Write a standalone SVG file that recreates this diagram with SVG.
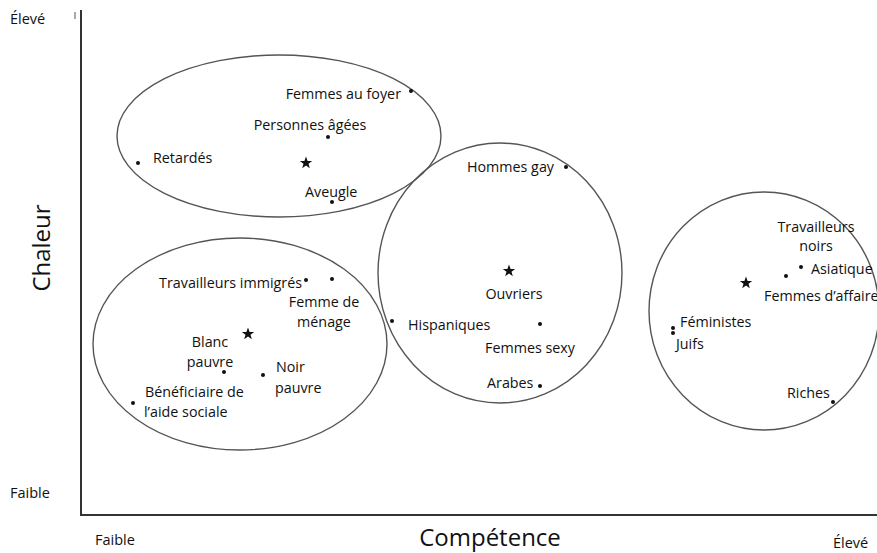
<svg xmlns="http://www.w3.org/2000/svg" width="877" height="553" viewBox="0 0 877 553">
<style>
.lbl{font-family:"Open Sans","Noto Sans","DejaVu Sans",sans-serif;font-size:14.3px;fill:#111}
.ax{font-family:"Open Sans","Liberation Sans",sans-serif;font-size:14.5px;fill:#111}
.title{font-family:"Open Sans","Liberation Sans",sans-serif;font-size:24px;fill:#111}
.cl{fill:none;stroke:#555;stroke-width:1.4}
.dot{fill:#111}
.star{fill:#111}
</style>
<defs>
<polygon id="star" points="0,-6.5 1.6,-2.1 6.2,-2 2.5,0.8 3.8,5.3 0,2.6 -3.8,5.3 -2.5,0.8 -6.2,-2 -1.6,-2.1"/>
</defs>
<rect width="877" height="553" fill="#fff"/>
<g id="axes">
<line x1="81" y1="10" x2="81" y2="516" stroke="#333" stroke-width="2"/>
<line x1="75" y1="12" x2="75" y2="19" stroke="#555" stroke-width="1"/>
<line x1="80" y1="515" x2="877" y2="515" stroke="#333" stroke-width="2"/>
<text class="ax" x="10" y="24">Élevé</text>
<text class="ax" x="10" y="498">Faible</text>
<text class="ax" x="95" y="545">Faible</text>
<text class="ax" x="833" y="548">Élevé</text>
<text class="title" x="490" y="546" text-anchor="middle">Compétence</text>
<text class="title" transform="translate(50,248) rotate(-90)" text-anchor="middle">Chaleur</text>
</g>
<g id="cluster-top">
<ellipse class="cl" cx="279" cy="136" rx="162" ry="81"/>
<use href="#star" class="star" x="306" y="163"/>
</g>
<g id="cluster-bottom-left">
<ellipse class="cl" cx="240" cy="344" rx="147" ry="106"/>
<use href="#star" class="star" x="248" y="334"/>
</g>
<g id="cluster-middle">
<ellipse class="cl" cx="500" cy="273" rx="122" ry="130"/>
<use href="#star" class="star" x="509" y="271"/>
</g>
<g id="cluster-right">
<ellipse class="cl" cx="764" cy="311" rx="115" ry="119"/>
<use href="#star" class="star" x="746" y="283"/>
</g>
<g id="femmes-au-foyer"><circle class="dot" cx="411" cy="91" r="2"/><text class="lbl" x="401" y="99" text-anchor="end">Femmes au foyer</text></g>
<g id="personnes-agees"><circle class="dot" cx="328" cy="137" r="2"/><text class="lbl" x="310" y="130" text-anchor="middle">Personnes âgées</text></g>
<g id="retardes"><circle class="dot" cx="138" cy="163" r="2"/><text class="lbl" x="153" y="163">Retardés</text></g>
<g id="aveugle"><circle class="dot" cx="332" cy="202" r="2"/><text class="lbl" x="305" y="197">Aveugle</text></g>
<g id="travailleurs-immigres"><circle class="dot" cx="306" cy="280" r="2"/><text class="lbl" x="302" y="288" text-anchor="end">Travailleurs immigrés</text></g>
<g id="femme-de-menage"><circle class="dot" cx="332" cy="279" r="2"/><text class="lbl" x="324" y="307" text-anchor="middle">Femme de</text><text class="lbl" x="324" y="327" text-anchor="middle">ménage</text></g>
<g id="blanc-pauvre"><circle class="dot" cx="224" cy="372" r="2"/><text class="lbl" x="210" y="347" text-anchor="middle">Blanc</text><text class="lbl" x="210" y="367" text-anchor="middle">pauvre</text></g>
<g id="noir-pauvre"><circle class="dot" cx="263" cy="375" r="2"/><text class="lbl" x="276" y="372">Noir</text><text class="lbl" x="275" y="393">pauvre</text></g>
<g id="beneficiaire"><circle class="dot" cx="133" cy="403" r="2"/><text class="lbl" x="145" y="397">Bénéficiaire de</text><text class="lbl" x="144" y="417">l’aide sociale</text></g>
<g id="hommes-gay"><circle class="dot" cx="566" cy="167" r="2"/><text class="lbl" x="554" y="172" text-anchor="end">Hommes gay</text></g>
<g id="ouvriers"><text class="lbl" x="514" y="299" text-anchor="middle">Ouvriers</text></g>
<g id="hispaniques"><circle class="dot" cx="392" cy="321" r="2"/><text class="lbl" x="408" y="330">Hispaniques</text></g>
<g id="femmes-sexy"><circle class="dot" cx="540" cy="324" r="2"/><text class="lbl" x="485" y="353">Femmes sexy</text></g>
<g id="arabes"><circle class="dot" cx="540" cy="386" r="2"/><text class="lbl" x="487" y="388">Arabes</text></g>
<g id="travailleurs-noirs"><circle class="dot" cx="786" cy="276" r="2"/><text class="lbl" x="816" y="232" text-anchor="middle">Travailleurs</text><text class="lbl" x="816" y="251" text-anchor="middle">noirs</text></g>
<g id="asiatique"><circle class="dot" cx="801" cy="267" r="2"/><text class="lbl" x="811" y="274">Asiatique</text></g>
<g id="femmes-daffaire"><text class="lbl" x="764" y="301">Femmes d’affaire</text></g>
<g id="feministes"><circle class="dot" cx="673" cy="328" r="2"/><text class="lbl" x="680" y="327">Féministes</text></g>
<g id="juifs"><circle class="dot" cx="673" cy="333" r="2"/><text class="lbl" x="676" y="349">Juifs</text></g>
<g id="riches"><circle class="dot" cx="833" cy="402" r="2"/><text class="lbl" x="787" y="398">Riches</text></g>
<g id="connectors"></g>
</svg>
